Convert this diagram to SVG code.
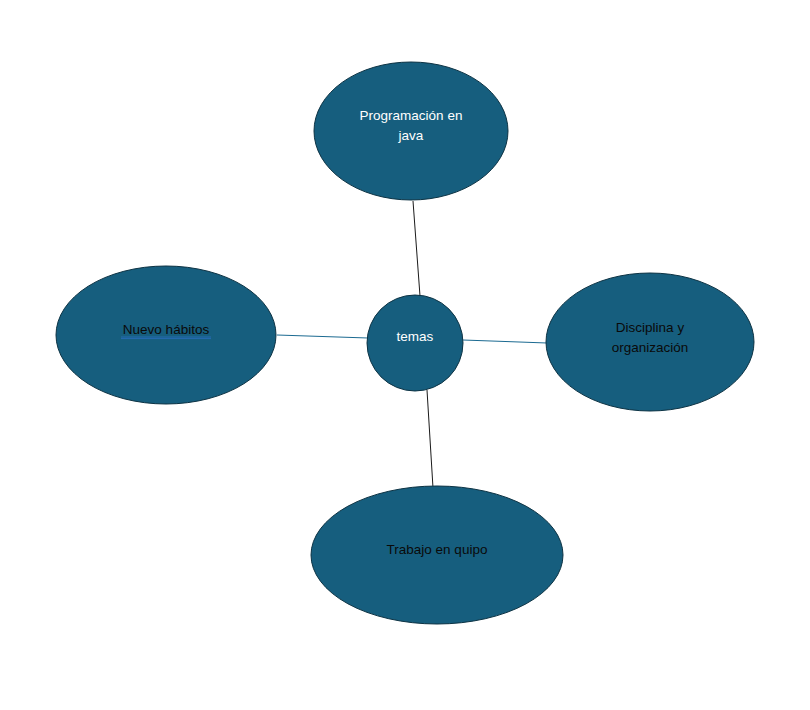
<svg xmlns="http://www.w3.org/2000/svg" width="810" height="710" viewBox="0 0 810 710">
<style>
.node{fill:#165e7e;stroke:#0d3344;stroke-width:1}
.t{font-family:"Liberation Sans","DejaVu Sans",sans-serif;font-size:13.5px;text-anchor:middle}
.w{fill:#ffffff}
.b{fill:#0a0a0a}
.ck{stroke:#1a1a1a;stroke-width:1;fill:none}
.cb{stroke:#1b6a91;stroke-width:1;fill:none}
</style>
<rect width="810" height="710" fill="#ffffff"/>
<g id="connectors">
<line class="ck" x1="413" y1="201" x2="420" y2="296"/>
<line class="cb" x1="277" y1="335" x2="368" y2="338"/>
<line class="cb" x1="463" y1="340" x2="547" y2="343"/>
<line class="ck" x1="427" y1="390" x2="433" y2="488"/>
</g>
<g id="node-programacion">
<ellipse class="node" cx="411" cy="131" rx="97" ry="69"/>
<text class="t w" x="411" y="120">Programación en</text>
<text class="t w" x="411" y="140">java</text>
</g>
<g id="node-habitos">
<ellipse class="node" cx="166" cy="335" rx="110" ry="69"/>
<text class="t b" x="166" y="334">Nuevo hábitos</text>
<line x1="121" y1="337" x2="211" y2="337" stroke="#2a6fc0" stroke-width="0.8"/>
<line x1="121" y1="338.6" x2="211" y2="338.6" stroke="#2a6fc0" stroke-width="0.8"/>
</g>
<g id="node-temas">
<circle class="node" cx="415" cy="343" r="48"/>
<text class="t w" x="415" y="341">temas</text>
</g>
<g id="node-disciplina">
<ellipse class="node" cx="650" cy="342" rx="104" ry="69"/>
<text class="t b" x="650" y="332">Disciplina y</text>
<text class="t b" x="650" y="352">organización</text>
</g>
<g id="node-trabajo">
<ellipse class="node" cx="437" cy="555" rx="126" ry="69"/>
<text class="t b" x="437" y="554">Trabajo en quipo</text>
</g>
</svg>
